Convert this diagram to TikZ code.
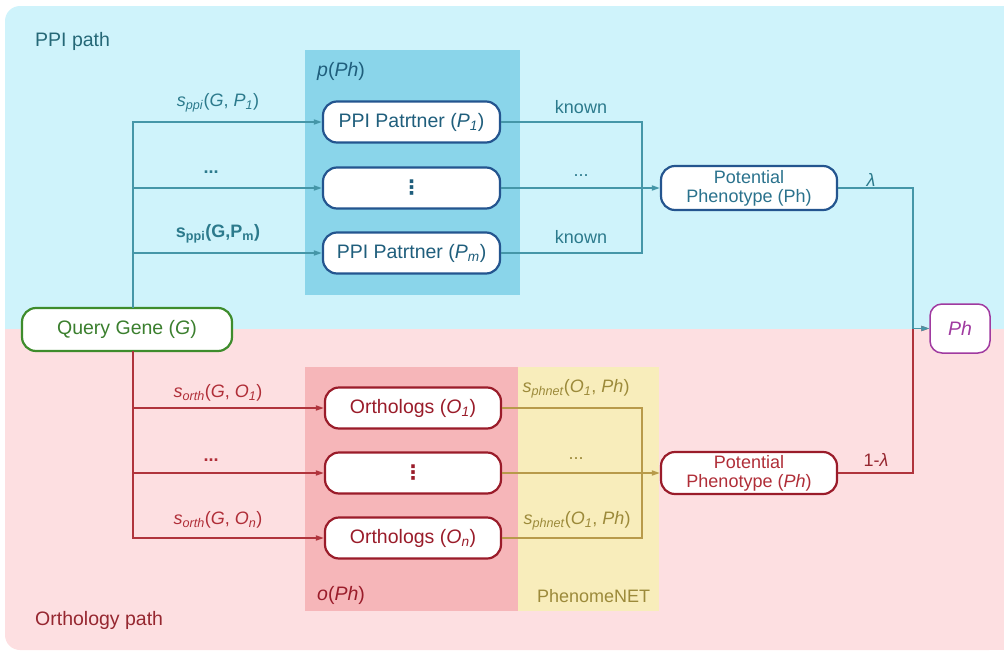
\documentclass[tikz,border=0pt]{standalone}
\usepackage{fontspec}
\setmainfont{Liberation Sans}
\newfontfamily\dejavu{DejaVu Sans}
\usetikzlibrary{arrows.meta}
\definecolor{bgblue}{HTML}{CFF3FB}
\definecolor{bgpink}{HTML}{FDDFE1}
\definecolor{boxblue}{HTML}{8AD5EA}
\definecolor{boxpink}{HTML}{F6B6B9}
\definecolor{boxyellow}{HTML}{F8EDBB}
\definecolor{tealtxt}{HTML}{2C7A8C}
\definecolor{tealline}{HTML}{4596A8}
\definecolor{navy}{HTML}{24558F}
\definecolor{bluetxt}{HTML}{1F5E7C}
\definecolor{redtxt}{HTML}{B02E38}
\definecolor{redline}{HTML}{B0343C}
\definecolor{darkred}{HTML}{9A1C2A}
\definecolor{goldtxt}{HTML}{9C8A3A}
\definecolor{goldline}{HTML}{B89A4A}
\definecolor{greentxt}{HTML}{3B7F2E}
\definecolor{greenbd}{HTML}{3E8C2C}
\definecolor{magenta2}{HTML}{A03AA0}
\begin{document}
\begin{tikzpicture}[x=1pt,y=-1pt,
  font=\fontsize{18}{19}\selectfont,
  big/.style={font=\fontsize{19.5}{21}\selectfont},
  pill/.style={draw, rounded corners=14, line width=2.2, fill=white, minimum width=177, minimum height=41, inner sep=0, align=center},
  conn/.style={line width=1.6},
  arr/.style={conn, -{Triangle[length=8pt,width=5pt]}},
  lbl/.style={inner sep=0}]
\useasboundingbox (0,0) rectangle (1004,653);
% backgrounds
\fill[bgblue, rounded corners=15] (5,6) rectangle (1004,329);
\fill[bgblue] (40,6) rectangle (1004,329);
\fill[bgblue] (5,40) rectangle (40,329);
\fill[bgpink, rounded corners=15] (5,329) rectangle (1004,650);
\fill[bgpink] (40,329) rectangle (1004,650);
\fill[bgpink] (5,329) rectangle (40,610);
\fill[boxblue] (305,50) rectangle (520,295);
\fill[boxpink] (305,367) rectangle (518,611);
\fill[boxyellow] (518,367) rectangle (659,611);

% region labels
\node[lbl, big, anchor=west, text=tealtxt!85!black] (ppipath) at (35,41) {PPI path};
\node[lbl, big, anchor=west, text=redtxt!85!black] (orthpath) at (35,620) {Orthology path};
\node[lbl, big, anchor=west, text=bluetxt] (pph) at (317,71) {\textit{p}(\textit{Ph})};
\node[lbl, big, anchor=west, text=darkred] (oph) at (317,595) {\textit{o}(\textit{Ph})};
\node[lbl, anchor=west, text=goldtxt] (pnet) at (537,596) {PhenomeNET};

% nodes
\node[pill, big, draw=greenbd, text=greentxt, minimum width=210, minimum height=43] (qg) at (127,329.5) {Query Gene (\textit{G})};
\node[pill, big, draw=navy, text=bluetxt] (p1) at (411.5,122) {PPI Patrtner (\textit{P}\textsubscript{\textit{1}})};
\node[pill, big, draw=navy, text=bluetxt] (p2) at (411.5,188) {{\dejavu\bfseries\fontsize{20}{20}\selectfont ⋮}};
\node[pill, big, draw=navy, text=bluetxt] (p3) at (411.5,253) {PPI Patrtner (\textit{P}\textsubscript{\textit{m}})};
\node[pill, big, draw=darkred, text=darkred, minimum width=176] (o1) at (413,408) {Orthologs (\textit{O}\textsubscript{\textit{1}})};
\node[pill, big, draw=darkred, text=darkred, minimum width=176] (o2) at (413,473) {{\dejavu\bfseries\fontsize{20}{20}\selectfont ⋮}};
\node[pill, big, draw=darkred, text=darkred, minimum width=176] (o3) at (413,538) {Orthologs (\textit{O}\textsubscript{\textit{n}})};
\node[pill, draw=navy, text=tealtxt!80!navy, minimum width=176, minimum height=44] (ppb) at (749,188) {Potential\\Phenotype (Ph)};
\node[pill, draw=darkred, text=redtxt, minimum width=176, minimum height=42] (ppr) at (749,473) {Potential\\Phenotype (\textit{Ph})};
\node[pill, big, draw=magenta2, text=magenta2, line width=1.5, rounded corners=12, minimum width=60, minimum height=49] (ph) at (960,328.5) {\textit{Ph}};

% coordinates
\coordinate (tj) at (133,308);
\coordinate (bj) at (133,351);
\coordinate (kj) at (642,188);
\coordinate (gj) at (642,473);
\coordinate (fj) at (913,328.5);

% PPI connectors
\draw[arr, tealline] (tj) |- (p1.west);
\draw[arr, tealline] (tj |- p2.west) -- (p2.west);
\draw[arr, tealline] (tj |- p3.west) -- (p3.west);
\draw[conn, tealline] (p1.east) -| (kj);
\draw[conn, tealline] (p3.east) -| (kj);
\draw[arr, tealline] (p2.east) -- (ppb.west);

% orthology connectors
\draw[arr, redline] (bj) |- (o3.west);
\draw[arr, redline] (bj |- o1.west) -- (o1.west);
\draw[arr, redline] (bj |- o2.west) -- (o2.west);
\draw[conn, goldline] (o1.east) -| (gj);
\draw[conn, goldline] (o3.east) -| (gj);
\draw[arr, goldline] (o2.east) -- (ppr.west);

% final
\draw[arr, redline] (ppr.east) -| (fj) -- (ph.west);
\draw[arr, tealline] (ppb.east) -| (fj) -- (ph.west);

% edge labels
\node[lbl, text=tealtxt] (l1) at (218,103) {\textit{s}\textsubscript{\textit{ppi}}(\textit{G}, \textit{P}\textsubscript{\textit{1}})};
\node[lbl, text=tealtxt] (l2) at (211,172) {\textbf{...}};
\node[lbl, text=tealtxt] (l3) at (218,234) {\textbf{s\textsubscript{ppi}(G,P\textsubscript{m})}};
\node[lbl, text=tealtxt] (k1) at (581,107) {known};
\node[lbl, text=tealtxt] (k2) at (581,176) {...};
\node[lbl, text=tealtxt] (k3) at (581,237) {known};
\node[lbl, text=tealtxt] (lam) at (871,180) {\textit{λ}};
\node[lbl, text=redtxt] (r1) at (218,393) {\textit{s}\textsubscript{\textit{orth}}(\textit{G}, \textit{O}\textsubscript{\textit{1}})};
\node[lbl, text=redtxt] (r2) at (211,460) {\textbf{...}};
\node[lbl, text=redtxt] (r3) at (218,520) {\textit{s}\textsubscript{\textit{orth}}(\textit{G}, \textit{O}\textsubscript{\textit{n}})};
\node[lbl, text=goldtxt] (g1) at (576,389) {\textit{s}\textsubscript{\textit{phnet}}(\textit{O}\textsubscript{\textit{1}}, \textit{Ph})};
\node[lbl, text=goldtxt] (g2) at (576,459) {...};
\node[lbl, text=goldtxt] (g3) at (577,521) {\textit{s}\textsubscript{\textit{phnet}}(\textit{O}\textsubscript{\textit{1}}, \textit{Ph})};
\node[lbl, text=redtxt!85!black] (oml) at (876,460) {1-\textit{λ}};
\end{tikzpicture}
\end{document}
